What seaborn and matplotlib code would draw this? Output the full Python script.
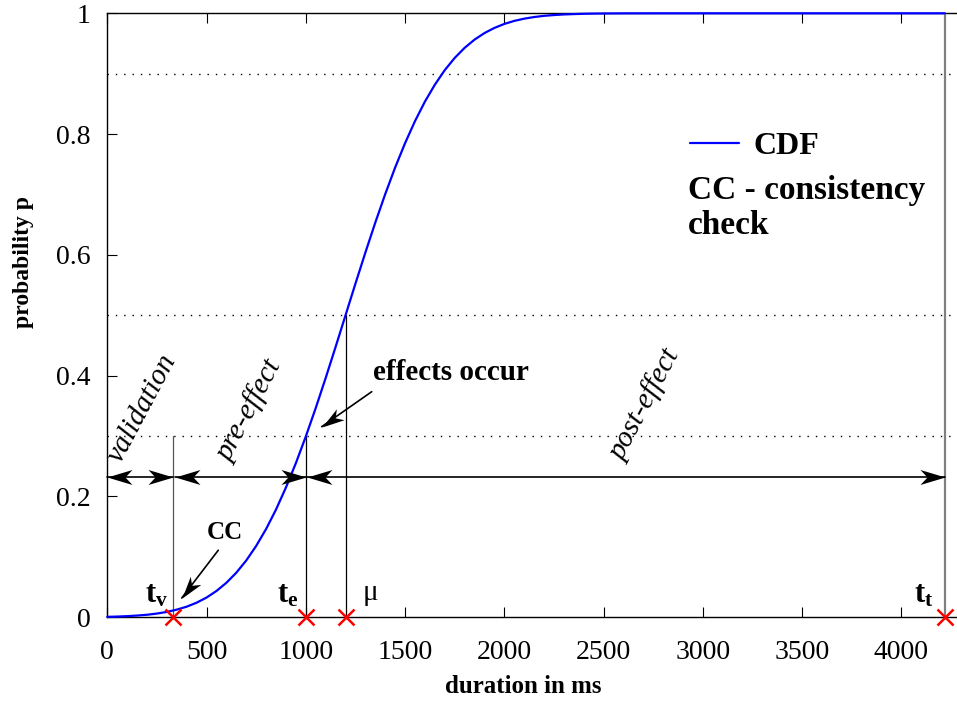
import math
import matplotlib
matplotlib.use("Agg")
import matplotlib.pyplot as plt
import seaborn as sns
import pandas as pd
from matplotlib.path import Path
from matplotlib.markers import MarkerStyle
from matplotlib.transforms import Affine2D

# --- data -----------------------------------------------------------------
duration_ms = [0, 50, 100, 150, 200, 250, 300, 350, 400, 450, 500, 550, 600,
               650, 700, 750, 800, 850, 900, 950, 1000, 1050, 1100, 1150, 1200,
               1250, 1300, 1350, 1400, 1450, 1500, 1550, 1600, 1650, 1700, 1750,
               1800, 1850, 1900, 1950, 2000, 2050, 2100, 2150, 2200, 2250, 2300,
               2350, 2400, 2450, 2500, 2600, 2800, 4220]
cdf_p = [0.0008, 0.0012, 0.0019, 0.0029, 0.0042, 0.0062, 0.0089, 0.0127, 0.0176,
         0.0242, 0.0327, 0.0436, 0.0572, 0.0739, 0.0941, 0.1182, 0.1462, 0.1785,
         0.2150, 0.2553, 0.2994, 0.3465, 0.3962, 0.4476, 0.5000, 0.5524, 0.6038,
         0.6535, 0.7006, 0.7447, 0.7850, 0.8215, 0.8538, 0.8818, 0.9059, 0.9261,
         0.9428, 0.9564, 0.9673, 0.9758, 0.9824, 0.9874, 0.9911, 0.9938, 0.9958,
         0.9971, 0.9981, 0.9987, 0.9992, 0.9995, 0.9997, 0.9999, 1.0, 1.0]

event_labels = [r"$\mathbf{t_v}$", r"$\mathbf{t_e}$", "μ", r"$\mathbf{t_t}$"]
event_ms = [330, 1000, 1200, 4220]
event_tops = [0.3, 0.3, 0.5, 1.0]

guide_levels = [0.3, 0.5, 0.9]

phase_names = ["validation", "pre-effect", "post-effect"]
phase_bounds = [0, 330, 1000, 4220]
phase_arrow_p = 0.233

x_ticks = [0, 500, 1000, 1500, 2000, 2500, 3000, 3500, 4000]
y_ticks = [0, 0.2, 0.4, 0.6, 0.8, 1.0]
y_tick_labels = ["0", "0.2", "0.4", "0.6", "0.8", "1"]

# --- style ----------------------------------------------------------------
sns.set_style("ticks")
plt.rcParams["font.family"] = ["Liberation Serif", "DejaVu Serif"]
plt.rcParams["text.color"] = "black"
plt.rcParams["axes.labelcolor"] = "black"
plt.rcParams["mathtext.fontset"] = "custom"
plt.rcParams["mathtext.rm"] = "Liberation Serif"
plt.rcParams["mathtext.it"] = "Liberation Serif:italic"
plt.rcParams["mathtext.bf"] = "Liberation Serif:bold"

W, H = 957, 702
fig = plt.figure(figsize=(W / 100, H / 100), dpi=100)
ax = fig.add_axes([107.3 / W, (H - 617.3) / H, 853.6 / W, 604 / H])
ax.set_xlim(0, 4300)
ax.set_ylim(0, 1)

df = pd.DataFrame({"duration": duration_ms, "p": cdf_p})
sns.lineplot(data=df, x="duration", y="p", ax=ax, color="#0000ff", lw=1.6,
             label="CDF", zorder=5, clip_on=False)

# dotted guide levels
for lvl in guide_levels:
    ax.plot([0, 4300], [lvl, lvl], color="black", lw=1.0,
            ls=(0, (1, 5)), zorder=2)

# vertical event lines
line_cols = ["#555555", "black", "black", "#808080"]
line_w = [0.9, 0.9, 0.9, 1.6]
for x, top, c, w in zip(event_ms, event_tops, line_cols, line_w):
    ax.plot([x, x], [0, top], color=c, lw=w, zorder=3)

# red event markers on the axis
ax.plot(event_ms, [0] * len(event_ms), ls="none", marker="x", ms=12,
        mew=1.8, color="#ff0000", clip_on=False, zorder=10)

# notched arrow heads
HEAD = Path([(0, 0), (-1, 0.3), (-0.72, 0), (-1, -0.3), (0, 0)],
            [Path.MOVETO, Path.LINETO, Path.LINETO, Path.LINETO, Path.CLOSEPOLY])


def arrow(x0, y0, x1, y1, both=False, size=36):
    ax.plot([x0, x1], [y0, y1], color="black", lw=1.2, zorder=6, clip_on=False)
    (d0x, d0y), (d1x, d1y) = ax.transData.transform([(x0, y0), (x1, y1)])
    ang = math.degrees(math.atan2(d1y - d0y, d1x - d0x))
    ends = [(x1, y1, ang)]
    if both:
        ends.append((x0, y0, ang + 180))
    for x, y, a in ends:
        m = MarkerStyle(HEAD, transform=Affine2D().rotate_deg(a))
        ax.plot([x], [y], marker=m, ms=size, color="black", mew=0,
                ls="none", zorder=7, clip_on=False)


gaps = [0, 12, 7]
for i in range(3):
    arrow(phase_bounds[i] + gaps[i], phase_arrow_p, phase_bounds[i + 1],
          phase_arrow_p, both=True)

arrow(559, 0.111, 375, 0.032, size=32)
arrow(1332, 0.3735, 1080, 0.3156, size=32)

# phase names
phase_pos = [(175, 0.346), (716, 0.341), (2711, 0.352)]
for name, (x, y) in zip(phase_names, phase_pos):
    ax.text(x, y, name, rotation=62, rotation_mode="anchor", ha="center",
            va="center", fontsize=21, fontstyle="italic", zorder=8)

# event labels
ax.text(306, 0.025, event_labels[0], ha="right", va="baseline", fontsize=22)
ax.text(961, 0.025, event_labels[1], ha="right", va="baseline", fontsize=22)
ax.text(1288, 0.028, event_labels[2], ha="left", va="baseline", fontsize=21)
ax.text(4160, 0.025, event_labels[3], ha="right", va="baseline", fontsize=22)

ax.text(594, 0.141, "CC", ha="center", va="center", fontsize=18,
        fontweight="bold")
ax.text(1340, 0.393, "effects occur", ha="left", va="baseline", fontsize=21,
        fontweight="bold")

# legend and note
leg = ax.legend(loc="center left", bbox_to_anchor=(2935, 0.78),
                bbox_transform=ax.transData, frameon=False, borderpad=0,
                borderaxespad=0, handlelength=1.55, handletextpad=0.45,
                prop={"weight": "bold", "size": 23})
for h in leg.legend_handles:
    h.set_linewidth(1.6)
ax.text(2925, 0.707, "CC - consistency", ha="left", va="center", fontsize=24,
        fontweight="bold")
ax.text(2925, 0.648, "check", ha="left", va="center", fontsize=24,
        fontweight="bold")

# axes
ax.set_xticks(x_ticks)
ax.set_xticklabels([str(t) for t in x_ticks])
ax.set_yticks(y_ticks)
ax.set_yticklabels(y_tick_labels)
ax.tick_params(axis="x", direction="in", length=7, width=0.8, top=True,
               labelsize=20, pad=16, colors="black")
ax.tick_params(axis="y", direction="in", length=7, width=0.8, right=False,
               labelsize=20, pad=12, colors="black")
for s in ax.spines.values():
    s.set_linewidth(1.0)
    s.set_color("black")
ax.set_xlabel("")
ax.set_ylabel("")

fig.text(523 / W, 1 - 693 / H, "duration in ms", ha="center", va="baseline",
         fontsize=18, fontweight="bold")
fig.text(23 / W, 1 - 262 / H, "probability p", ha="center", va="center",
         rotation=90, fontsize=17, fontweight="bold")

fig.savefig("out.png", dpi=100)
